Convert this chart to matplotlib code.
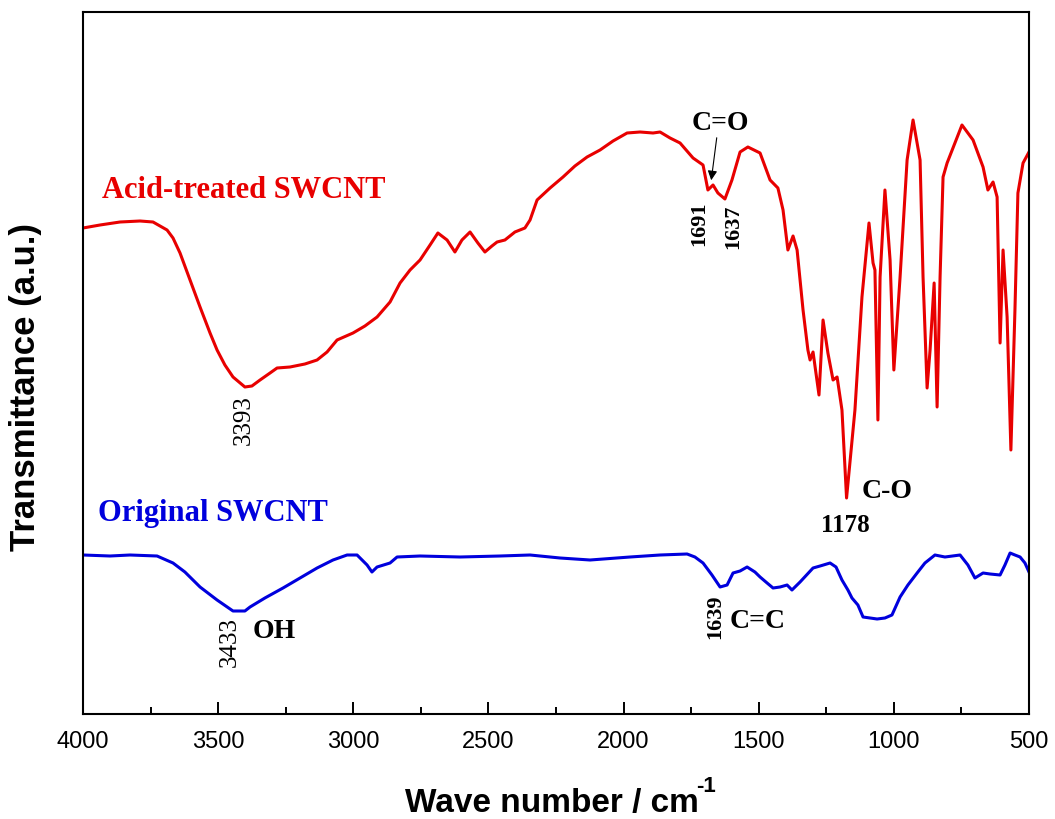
import numpy as np
import matplotlib
matplotlib.use('Agg')
import matplotlib.pyplot as plt

# acid-treated SWCNT (red), wave number vs transmittance (a.u.)
acid_wn = [4000, 3937, 3863, 3789, 3741, 3715, 3689, 3667, 3641, 3604,
           3567, 3530, 3504, 3475, 3445, 3401, 3375, 3345, 3308, 3282,
           3234, 3179, 3134, 3097, 3060, 3001, 2957, 2912, 2864, 2827,
           2790, 2753, 2716, 2687, 2653, 2624, 2598, 2568, 2539, 2513,
           2487, 2468, 2439, 2402, 2365, 2346, 2320, 2272, 2224, 2180,
           2135, 2087, 2039, 1987, 1939, 1891, 1865, 1828, 1791, 1743,
           1706, 1688, 1669, 1651, 1625, 1599, 1569, 1540, 1495, 1458,
           1429, 1410, 1392, 1373, 1358, 1336, 1318, 1310, 1299, 1277,
           1262, 1244, 1225, 1210, 1192, 1175, 1144, 1118, 1092, 1077,
           1070, 1059, 1051, 1033, 1014, 1000, 977, 951, 929, 903,
           892, 877, 866, 851, 840, 829, 818, 803, 748, 707,
           670, 652, 633, 618, 607, 596, 581, 567, 552, 541,
           522, 500]
acid_t = [486, 489, 492, 493, 492, 488, 484, 476, 461, 434,
          407, 381, 364, 349, 337, 327, 328, 334, 341, 346,
          347, 350, 354, 362, 374, 381, 388, 397, 412, 431,
          444, 454, 469, 481, 474, 462, 474, 482, 471, 462,
          468, 472, 474, 482, 486, 494, 514, 526, 537, 548,
          557, 564, 573, 581, 582, 581, 582, 576, 571, 556,
          549, 524, 529, 521, 515, 534, 562, 567, 561, 534,
          526, 504, 464, 478, 464, 404, 364, 354, 362, 319,
          394, 361, 334, 337, 304, 216, 304, 417, 491, 451,
          444, 294, 437, 524, 454, 344, 437, 554, 594, 554,
          437, 326, 364, 431, 307, 437, 537, 551, 589, 574,
          547, 524, 532, 517, 371, 464, 397, 264, 404, 521,
          551, 562]

# original SWCNT (blue)
orig_wn = [4000, 3900, 3826, 3726, 3667, 3623, 3567, 3504, 3445, 3401,
           3382, 3327, 3260, 3197, 3134, 3075, 3023, 2986, 2949, 2931,
           2912, 2864, 2838, 2753, 2605, 2457, 2346, 2235, 2124, 1976,
           1865, 1765, 1736, 1706, 1673, 1643, 1617, 1595, 1569, 1543,
           1514, 1495, 1469, 1447, 1421, 1395, 1377, 1347, 1299, 1273,
           1236, 1214, 1192, 1170, 1155, 1133, 1114, 1088, 1062, 1033,
           1007, 977, 948, 914, 885, 848, 811, 755, 726, 700,
           670, 644, 607, 589, 570, 552, 533, 515, 500]
orig_t = [159, 158, 159, 158, 151, 142, 127, 114, 103, 103,
          107, 116, 126, 136, 146, 154, 159, 159, 149, 142,
          147, 151, 157, 158, 157, 158, 159, 156, 154, 157,
          159, 160, 157, 151, 139, 127, 129, 141, 143, 147,
          142, 137, 131, 126, 127, 129, 124, 132, 146, 148,
          151, 147, 134, 124, 116, 109, 97, 96, 95, 96,
          99, 117, 129, 141, 151, 159, 157, 159, 149, 136,
          141, 140, 139, 149, 161, 159, 157, 151, 142]

xticks = [4000, 3500, 3000, 2500, 2000, 1500, 1000, 500]

plt.rcParams['font.family'] = 'Liberation Sans'

fig = plt.figure(figsize=(10.55, 8.19), dpi=100)
ax = fig.add_axes([83/1055, 1-714/819, 946/1055, 702/819])

ax.plot(acid_wn, acid_t, color='#e80000', lw=2.2, solid_joinstyle='round')
ax.plot(orig_wn, orig_t, color='#0000dd', lw=2.2, solid_joinstyle='round')

ax.set_xlim(4000, 500)
ax.set_ylim(0, 702)
ax.set_xticks(xticks)
ax.set_xticks(np.arange(3750, 500, -500), minor=True)
ax.set_yticks([])
ax.tick_params(axis='x', which='major', direction='in', length=9, width=1.4,
               labelsize=17, pad=12)
ax.tick_params(axis='x', which='minor', direction='in', length=5, width=1.4)
for sp in ax.spines.values():
    sp.set_linewidth(1.5)

serif = 'Liberation Serif'
ax.text(3930, 523, 'Acid-treated SWCNT', color='#e80000', fontsize=22,
        fontweight='bold', family=serif, ha='left', va='center')
ax.text(3944, 201, 'Original SWCNT', color='#0000dd', fontsize=22,
        fontweight='bold', family=serif, ha='left', va='center')

ax.text(3404, 294, '3393', fontsize=18, family=serif, rotation=90,
        ha='center', va='center')
ax.text(3456, 72, '3433', fontsize=18, family=serif, rotation=90,
        ha='center', va='center')
ax.text(3371, 83, 'OH', fontsize=20, family=serif, fontweight='bold',
        ha='left', va='center')

ax.text(1640, 591, 'C=O', fontsize=20, family=serif, fontweight='bold',
        ha='center', va='center')
ax.annotate('', xy=(1677, 531), xytext=(1654, 579),
            arrowprops=dict(arrowstyle='-|>', color='black', lw=0.8,
                            mutation_scale=14))
ax.text(1721, 490, '1691', fontsize=16, family=serif, fontweight='bold',
        rotation=90, ha='center', va='center')
ax.text(1595, 487, '1637', fontsize=16, family=serif, fontweight='bold',
        rotation=90, ha='center', va='center')

ax.text(1118, 222, 'C-O', fontsize=20, family=serif, fontweight='bold',
        ha='left', va='center')
ax.text(1181, 189, '1178', fontsize=18, family=serif, fontweight='bold',
        ha='center', va='center')

ax.text(1662, 97, '1639', fontsize=16, family=serif, fontweight='bold',
        rotation=90, ha='center', va='center')
ax.text(1606, 92, 'C=C', fontsize=20, family=serif, fontweight='bold',
        ha='left', va='center')

fig.text(26/1055, 1-387/819, 'Transmittance (a.u.)', fontsize=25,
         fontweight='bold', rotation=90, ha='center', va='center')
fig.text(405/1055, 1-812/819, 'Wave number / cm', fontsize=24,
         fontweight='bold', ha='left', va='baseline')
fig.text(696/1055, 1-792/819, '-1', fontsize=16, fontweight='bold',
         ha='left', va='baseline')

fig.savefig('out.png', dpi=100)
